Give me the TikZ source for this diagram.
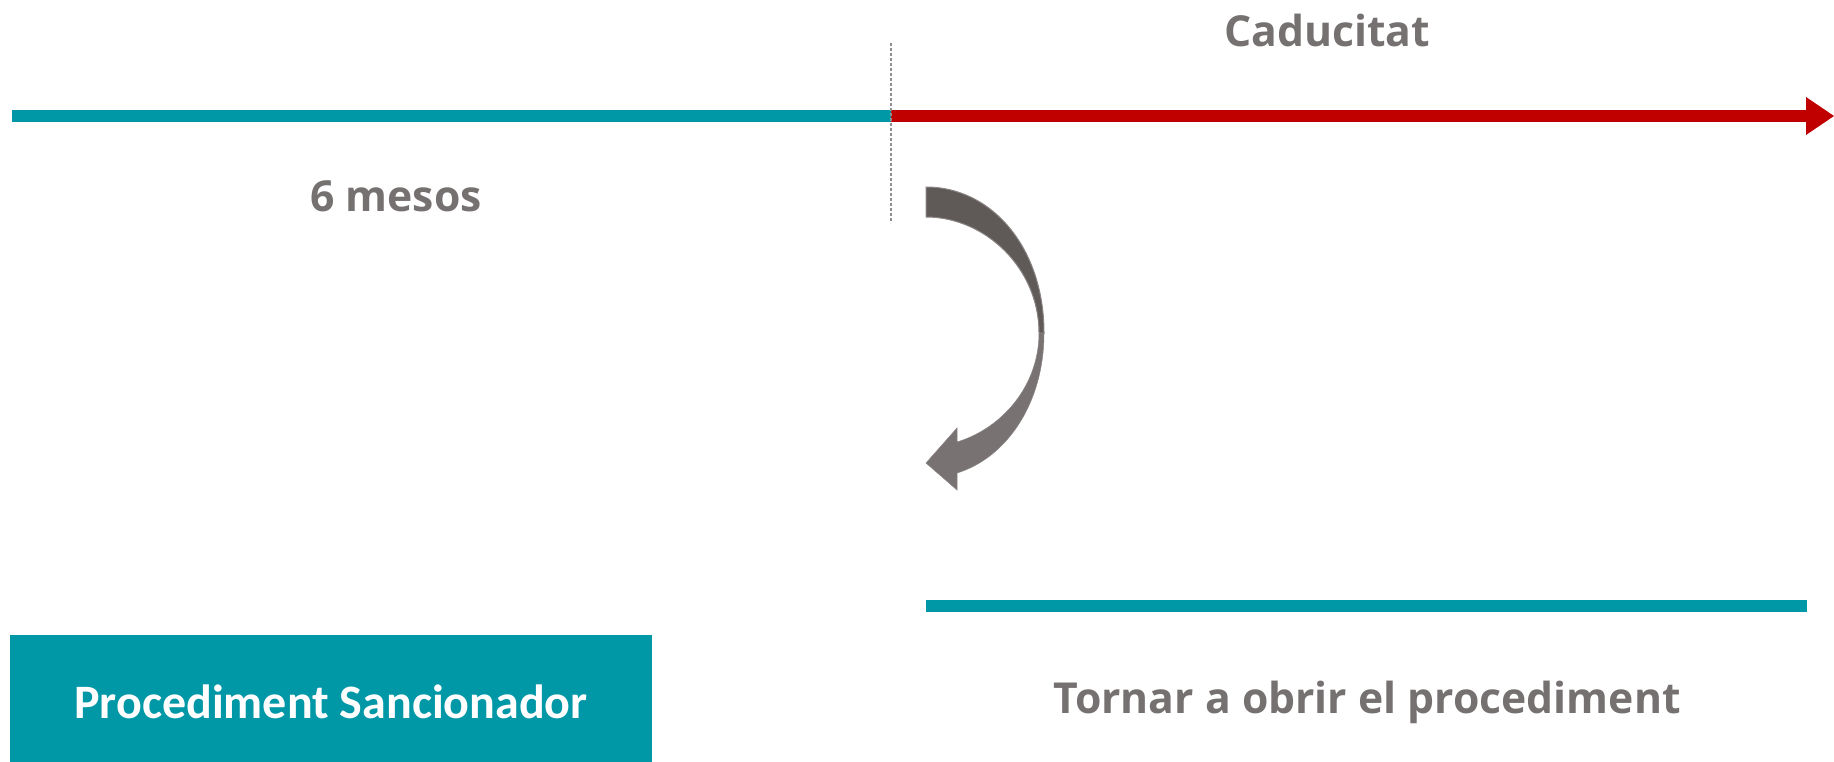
\documentclass[tikz,border=0pt]{standalone}
\usepackage{fontspec}
\setmainfont{Open Sans}
\newfontfamily\carl{Carlito}
\definecolor{teal1}{HTML}{0097A7}
\definecolor{red1}{HTML}{C00000}
\definecolor{grey1}{HTML}{767171}
\definecolor{darkarr}{HTML}{5F5A58}
\definecolor{lightarr}{HTML}{787372}
\definecolor{edgearr}{HTML}{8A8584}
\begin{document}
\begin{tikzpicture}[x=1pt,y=-1pt,
  bar/.style={line width=12pt},
  greytext/.style={text=grey1,font=\bfseries\fontsize{42.7}{50}\selectfont,inner sep=0pt},
  boxtext/.style={text=white,font=\carl\bfseries\fontsize{48}{56}\selectfont,inner sep=0pt}]
\useasboundingbox (0,0) rectangle (1834,762);
% top timeline
\coordinate (tl) at (12,116);
\coordinate (mid) at (891,116);
\coordinate (tr) at (1806,116);
\draw[bar,teal1] (tl) -- (mid);
\draw[bar,red1] (mid) -- (tr);
\fill[red1] (1806,97) -- (1834,116) -- (1806,135) -- cycle;
% dashed divider
\coordinate (dtop) at (891,43);
\coordinate (dbot) at (891,223);
\draw[grey1!80,line width=1.5pt,dash pattern=on 3pt off 2pt] (dtop) -- (dbot);
% texts
\node[greytext] (cad) at (1327,30) {Caducitat};
\node[greytext] (mes) at (396,196) {6 mesos};
% curved arrow
\fill[darkarr,draw=edgearr,line width=1pt] (926,187) .. controls (992,187) and (1044,248) .. (1044,333)
   -- (1039,333) .. controls (1039,268) and (985,217) .. (926,217) -- cycle;
\fill[lightarr,draw=edgearr,line width=0.5pt] (1044,333) .. controls (1044,404) and (1006,458) .. (957,473)
   -- (957,490) -- (926,463) -- (957,428) -- (957,442) .. controls (1003,428) and (1039,385) .. (1039,333) -- cycle;
% second timeline
\coordinate (bl) at (926,606);
\coordinate (br) at (1807,606);
\draw[bar,teal1] (bl) -- (br);
% box
\node[fill=teal1,minimum width=642pt,minimum height=128pt,inner sep=0pt,anchor=north west] (box) at (10,635) {};
\node[boxtext] (boxt) at (331,702) {Procediment Sancionador};
\node[greytext] (torn) at (1367,702) {Tornar a obrir el procediment};
\end{tikzpicture}
\end{document}
